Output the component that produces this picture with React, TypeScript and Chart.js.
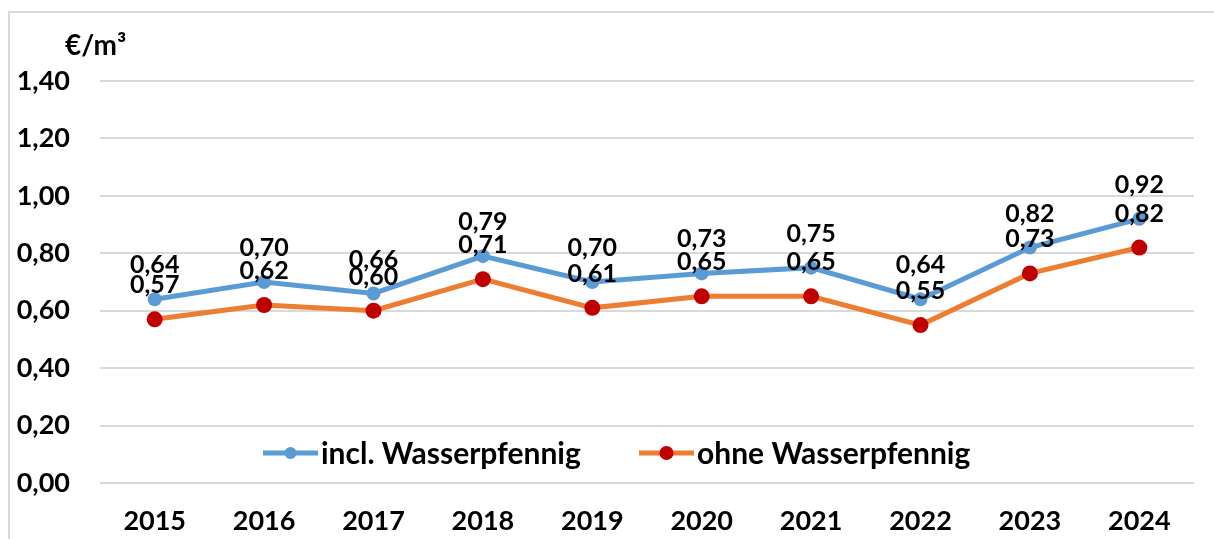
import React, { useEffect, useRef } from "react";
import { Chart, registerables } from "chart.js";

Chart.register(...registerables);

const years = ["2015", "2016", "2017", "2018", "2019", "2020", "2021", "2022", "2023", "2024"];
const inclValues = [0.64, 0.70, 0.66, 0.79, 0.70, 0.73, 0.75, 0.64, 0.82, 0.92];
const ohneValues = [0.57, 0.62, 0.60, 0.71, 0.61, 0.65, 0.65, 0.55, 0.73, 0.82];
const seriesNames = ["incl. Wasserpfennig", "ohne Wasserpfennig"];
const yTicks = [0, 0.2, 0.4, 0.6, 0.8, 1.0, 1.2, 1.4];
const unitLabel = "€/m³";

const FONT = "Lato, 'Open Sans', sans-serif";
const fmt = (v: number) => v.toFixed(2).replace(".", ",");

const BLUE = "#5B9BD5";
const ORANGE = "#ED7D31";
const RED = "#C00000";

const decorPlugin = {
  id: "decor",
  beforeDraw(chart: any) {
    const ctx = chart.ctx;
    ctx.save();
    ctx.strokeStyle = "#d9d9d9";
    ctx.lineWidth = 2;
    ctx.strokeRect(9, 12, 1400, 800);
    ctx.restore();
  },
  afterDraw(chart: any) {
    const ctx = chart.ctx;
    const area = chart.chartArea;
    ctx.save();
    // unit label
    ctx.fillStyle = "#000";
    ctx.font = `bold 28px ${FONT}`;
    ctx.textAlign = "left";
    ctx.textBaseline = "middle";
    ctx.fillText(unitLabel, 65, 46);

    // data labels
    ctx.font = `bold 25px ${FONT}`;
    ctx.textAlign = "center";
    chart.data.datasets.forEach((ds: any, di: number) => {
      const meta = chart.getDatasetMeta(di);
      meta.data.forEach((pt: any, i: number) => {
        ctx.fillText(fmt(ds.data[i]), pt.x, pt.y - 34);
      });
    });

    // legend
    const ly = 453;
    const items = [
      { x: area.left + 163, color: BLUE, marker: BLUE, r: 6 },
      { x: area.left + 539, color: ORANGE, marker: RED, r: 7 },
    ];
    ctx.font = `bold 30px ${FONT}`;
    ctx.textAlign = "left";
    items.forEach((it, i) => {
      ctx.strokeStyle = it.color;
      ctx.lineWidth = 5;
      ctx.beginPath();
      ctx.moveTo(it.x, ly);
      ctx.lineTo(it.x + 55, ly);
      ctx.stroke();
      ctx.fillStyle = it.marker;
      ctx.beginPath();
      ctx.arc(it.x + 27.5, ly, it.r, 0, Math.PI * 2);
      ctx.fill();
      ctx.fillStyle = "#000";
      ctx.fillText(chart.data.datasets[i].label, it.x + 58, ly + 1);
    });
    ctx.restore();
  },
};

export default function App() {
  const ref = useRef<HTMLCanvasElement>(null);
  useEffect(() => {
    if (!ref.current) return;
    const chart = new Chart(ref.current, {
      type: "line",
      data: {
        labels: years,
        datasets: [
          {
            label: seriesNames[0],
            data: inclValues,
            borderColor: BLUE,
            backgroundColor: BLUE,
            borderWidth: 5,
            pointRadius: 7,
            pointBorderWidth: 0,
            pointBackgroundColor: BLUE,
            tension: 0,
          },
          {
            label: seriesNames[1],
            data: ohneValues,
            borderColor: ORANGE,
            backgroundColor: RED,
            borderWidth: 5,
            pointRadius: 8,
            pointBorderWidth: 0,
            pointBackgroundColor: RED,
            tension: 0,
          },
        ],
      },
      options: {
        responsive: false,
        animation: false,
        layout: { padding: { top: 81, right: 20, left: 0, bottom: 0 } },
        plugins: {
          legend: { display: false },
          tooltip: { enabled: false },
        },
        scales: {
          x: {
            offset: true,
            grid: { display: false, drawTicks: false },
            border: { display: false },
            ticks: {
              color: "#000",
              padding: 22,
              font: { family: FONT, size: 27, weight: "bold" },
            },
            afterFit: (s: any) => {
              s.height = 56;
            },
          },
          y: {
            min: 0,
            max: 1.4,
            afterBuildTicks: (s: any) => {
              s.ticks = yTicks.map((v) => ({ value: v }));
            },
            grid: { color: "#d9d9d9", lineWidth: 2, drawTicks: false },
            border: { display: false },
            ticks: {
              color: "#000",
              padding: 30,
              font: { family: FONT, size: 27, weight: "bold" },
              callback: (v: any) => fmt(Number(v)),
            },
            afterFit: (s: any) => {
              s.width = 100;
            },
          },
        },
      },
      plugins: [decorPlugin],
    });
    return () => chart.destroy();
  }, []);
  return (
    <canvas
      ref={ref}
      width={1214}
      height={539}
      style={{ position: "fixed", left: 0, top: 0, width: 1214, height: 539, background: "#fff" }}
    />
  );
}
